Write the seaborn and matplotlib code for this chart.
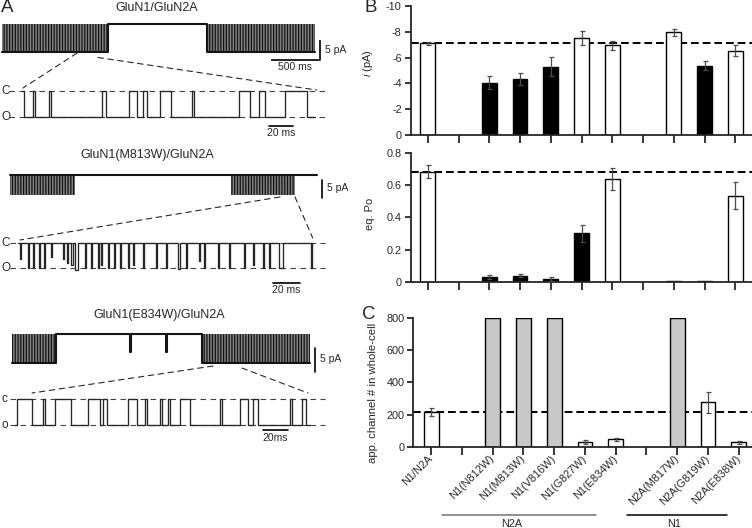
import numpy as np
import pandas as pd
import matplotlib
matplotlib.use("Agg")
import matplotlib.pyplot as plt
import seaborn as sns
from matplotlib.patches import ConnectionPatch

sns.set_style("ticks")
plt.rcParams["font.family"] = ["Liberation Sans", "DejaVu Sans"]
plt.rcParams["axes.unicode_minus"] = False
plt.rcParams["mathtext.fontset"] = "custom"
plt.rcParams["mathtext.it"] = "Liberation Sans:italic"
plt.rcParams["mathtext.rm"] = "Liberation Sans"
plt.rcParams["hatch.linewidth"] = 0.9

# ---------------- data: bar charts ----------------
categories = ["N1/N2A", " ", "N1(N812W)", "N1(M813W)", "N1(V816W)", "N1(G827W)",
              "N1(E834W)", "  ", "N2A(M817W)", "N2A(G819W)", "N2A(E838W)"]
constructs = ["N1/N2A", "N1(N812W)", "N1(M813W)", "N1(V816W)", "N1(G827W)",
              "N1(E834W)", "N2A(M817W)", "N2A(G819W)", "N2A(E838W)"]
i_mean = [-7.1, -4.05, -4.35, -5.3, -7.55, -6.95, -7.95, -5.35, -6.55]
i_err = [0.1, 0.5, 0.45, 0.75, 0.55, 0.35, 0.25, 0.35, 0.45]
i_colors = ["white", "black", "black", "black", "white", "white", "white", "black", "white"]
po_mean = [0.685, 0.027, 0.037, 0.016, 0.30, 0.64, 0.002, 0.004, 0.535]
po_err = [0.04, 0.012, 0.008, 0.01, 0.05, 0.07, 0.0, 0.0, 0.085]
po_colors = ["white", "black", "black", "black", "black", "white", "black", "black", "white"]
n_mean = [215, 800, 800, 800, 28, 46, 800, 276, 27]
n_err = [25, 0, 0, 0, 12, 10, 0, 64, 8]
n_colors = ["white", "#c8c8c8", "#c8c8c8", "#c8c8c8", "white", "white", "#c8c8c8", "white", "white"]
i_ref, po_ref, n_ref = -7.1, 0.685, 215

# ---------------- data: single-channel traces (ms, pA) ----------------
t1c_bursts = [(0, 1075), (2080, 3175)]
t1c_open = -7.0
t2c_bursts = [(0, 659), (2240, 2890)]
t2c_end = 3113
t2c_depth = -5.5
t3c_bursts = [(0, 446), (1927, 3022)]
t3c_open = -6.1
t3c_brief = [(1197, 1205), (1562, 1570)]
t3c_brief_amp = -3.75
t1e_closures = [(0, 1.9), (8.9, 11.1), (22.2, 24.2), (66.7, 70.3), (88.9, 95.8), (100.8, 104.2),
                (115.3, 124.2), (141.7, 143.6), (180.6, 190.3), (197.2, 202.8), (219.4, 237.0)]
t1e_end = 244.4
t2e_openings = [(1.5, 2.5), (7.2, 8.0), (11.0, 11.8), (15.5, 16.3), (19.8, 20.6), (24.8, 25.6),
                (33.5, 34.5), (36.5, 37.5), (39.5, 41.0), (42.5, 45.0), (50.5, 51.3), (54.8, 55.6),
                (59.8, 60.6), (62.3, 63.1), (67.3, 68.1), (72.3, 73.1), (76.5, 77.3), (82.3, 83.1),
                (86.0, 86.8), (93.5, 94.3), (103.5, 104.3), (111.0, 111.8), (119.8, 121.5),
                (126.0, 126.8), (136.0, 136.8), (139.8, 140.6), (149.8, 150.6), (158.5, 159.3),
                (169.8, 170.6), (176.0, 176.8), (183.5, 184.3), (188.5, 189.3), (196.0, 199.0),
                (219.8, 220.6)]
t2e_amps = [-4.5, -7, -7, -7, -7, -4, -4.5, -5.5, -6, -7.5, -7, -7, -7, -6, -7, -7, -7, -7,
            -6, -7, -7, -7, -7.3, -7, -5, -7, -7, -7, -7, -6, -7, -7, -7, -7]
t2e_end = 221.5
t3e_closures = [(1.3, 13.3), (22.7, 24.0), (32.0, 44.5), (58.7, 68.0), (70.7, 73.9), (90.7, 97.3),
                (104.0, 105.3), (116.0, 117.3), (122.7, 124.0), (132.0, 140.0), (164.0, 165.3),
                (180.0, 186.7), (190.7, 194.7), (220.0, 221.3), (229.3, 232.8)]
t3e_end = 236.0
open_level = -7.0

W, H = 752, 528
fig = plt.figure(figsize=(W / 100, H / 100), dpi=100)


def px_axes(x0, y0, x1, y1):
    return fig.add_axes([x0 / W, 1 - y1 / H, (x1 - x0) / W, (y1 - y0) / H])


def ftext(x, y, s, **kw):
    fig.text(x / W, 1 - y / H, s, **kw)


def trace_axes(box, origin, scale):
    x0, y0, x1, y1 = box
    ox, oy = origin
    sx, sy = scale
    ax = px_axes(*box)
    ax.set_xlim((x0 - ox) * sx, (x1 - ox) * sx)
    ax.set_ylim(-(y1 - oy) * sy, -(y0 - oy) * sy)
    ax.axis("off")
    return ax


def segments_df(segs):
    xs, ys = [], []
    for a, b, lv in segs:
        xs += [a, b]
        ys += [lv, lv]
    return pd.DataFrame({"t": xs, "pA": ys})


def events_segments(events, levels, base, t_end):
    segs, t = [], 0.0
    for (a, b), lv in zip(events, levels):
        if a > t:
            segs.append((t, a, base))
        segs.append((a, b, lv))
        t = b
    segs.append((t, t_end, base))
    return segs


def draw_trace(ax, df, lw=0.95, color="0.15"):
    sns.lineplot(data=df, x="t", y="pA", ax=ax, estimator=None, sort=False,
                 color=color, linewidth=lw)
    ax.set_xlabel("")
    ax.set_ylabel("")


def fill_burst(ax, a, b, lo, hi):
    ax.fill_between([a, b], lo, hi, facecolor="0.5", edgecolor="0.08",
                    hatch="||||||", linewidth=0, zorder=1)


dash = (0, (5, 4))

# ----- trace 1 -----
ax1c = trace_axes((0, 18, 360, 75), (2, 24.3), (10.14, 0.25))
for a, b in t1c_bursts:
    fill_burst(ax1c, a, b, t1c_open, 0)
segs = [(t1c_bursts[0][0], t1c_bursts[0][1], t1c_open),
        (t1c_bursts[0][1], t1c_bursts[1][0], 0.0),
        (t1c_bursts[1][0], t1c_bursts[1][1], t1c_open)]
draw_trace(ax1c, segments_df(segs), lw=1.5, color="0.08")
ax1c.plot([3225, 3225, 2725], [-3.9, -8.9, -8.9], color="k", lw=1.2, solid_capstyle="butt")
ax1c.text(3276, -6.4, "5 pA", ha="left", va="center", fontsize=7.5)
ax1c.text(2975, -10.7, "500 ms", ha="center", va="center", fontsize=7.5)

ax1e = trace_axes((0, 80, 360, 140), (22, 90.7), (0.833, 7 / 26.6))
for lv in (0, open_level):
    ax1e.plot([-10.8, 252.4], [lv, lv], color="0.25", lw=0.8, ls=dash)
draw_trace(ax1e, segments_df(events_segments(t1e_closures, [0] * len(t1e_closures),
                                             open_level, t1e_end)))
ax1e.plot([205.8, 225.8], [-9.3, -9.3], color="k", lw=1.2)
ax1e.text(215.8, -11.2, "20 ms", ha="center", va="center", fontsize=7.5)

# ----- trace 2 -----
ax2c = trace_axes((0, 165, 360, 205), (10, 175), (10.14, 1 / 3.6))
for a, b in t2c_bursts:
    fill_burst(ax2c, a, b, t2c_depth, 0)
draw_trace(ax2c, segments_df([(0, t2c_end, 0.0)]), lw=1.5, color="0.08")
ax2c.plot([3164, 3164], [-1.39, -6.39], color="k", lw=1.2)
ax2c.text(3214, -3.7, "5 pA", ha="left", va="center", fontsize=7.5)

ax2e = trace_axes((0, 232, 360, 295), (18, 242.7), (0.75, 7 / 25.6))
for lv in (0, open_level):
    ax2e.plot([-6, 230], [lv, lv], color="0.25", lw=0.8, ls=dash)
draw_trace(ax2e, segments_df(events_segments(t2e_openings, t2e_amps, 0.0, t2e_end)))
ax2e.plot([191.25, 211.25], [-10.9, -10.9], color="k", lw=1.2)
ax2e.text(201.25, -12.8, "20 ms", ha="center", va="center", fontsize=7.5)

# ----- trace 3 -----
ax3c = trace_axes((0, 325, 360, 380), (12, 334), (10.14, 1 / 4.8))
for a, b in t3c_bursts:
    fill_burst(ax3c, a, b, t3c_open, 0)
segs = [(t3c_bursts[0][0], t3c_bursts[0][1], t3c_open)]
segs += events_segments([(a - t3c_bursts[0][1], b - t3c_bursts[0][1]) for a, b in t3c_brief],
                        [t3c_brief_amp] * len(t3c_brief), 0.0,
                        t3c_bursts[1][0] - t3c_bursts[0][1])
segs = [segs[0]] + [(a + t3c_bursts[0][1], b + t3c_bursts[0][1], lv) for a, b, lv in segs[1:]]
segs.append((t3c_bursts[1][0], t3c_bursts[1][1], t3c_open))
draw_trace(ax3c, segments_df(segs), lw=1.5, color="0.08")
ax3c.plot([3072, 3072], [-2.9, -7.9], color="k", lw=1.2)
ax3c.text(3123, -5.2, "5 pA", ha="left", va="center", fontsize=7.5)

ax3e = trace_axes((0, 390, 360, 445), (15, 399), (0.8, 7 / 25.7))
for lv in (0, open_level):
    ax3e.plot([-4, 248], [lv, lv], color="0.25", lw=0.8, ls=dash)
draw_trace(ax3e, segments_df(events_segments(t3e_closures, [0] * len(t3e_closures),
                                             open_level, t3e_end)))
ax3e.plot([198.4, 218.4], [-8.4, -8.4], color="k", lw=1.2)
ax3e.text(208.4, -10.6, "20ms", ha="center", va="center", fontsize=7.5)

for axa, pa, axb, pb in [(ax1c, (760, -7.2), ax1e, (0.8, 0.7)),
                         (ax1c, (973, -8.3), ax1e, (245.5, 0.18)),
                         (ax2c, (2738, -6.1), ax2e, (1.5, 0.74)),
                         (ax2c, (2890, -6.1), ax2e, (221, 1.3)),
                         (ax3c, (2038, -6.67), ax3e, (13.6, 1.63)),
                         (ax3c, (2332, -7.1), ax3e, (234.4, 1.63))]:
    con = ConnectionPatch(xyA=pa, coordsA=axa.transData, xyB=pb, coordsB=axb.transData,
                          color="0.15", lw=0.8, ls=dash)
    fig.add_artist(con)

ftext(157, 8, "GluN1/GluN2A", ha="center", va="center", fontsize=9)
ftext(147, 155, "GluN1(M813W)/GluN2A", ha="center", va="center", fontsize=9)
ftext(159, 315, "GluN1(E834W)/GluN2A", ha="center", va="center", fontsize=9)
for y, s in [(90.7, "C"), (117.3, "O"), (242.7, "C"), (268.3, "O"), (399, "c"), (424.7, "o")]:
    ftext(1, y, s, ha="left", va="center", fontsize=8.5)
ftext(1, -1, "A", ha="left", va="top", fontsize=13.5)
ftext(364, -1, "B", ha="left", va="top", fontsize=13.5)
ftext(362, 306, "C", ha="left", va="top", fontsize=13.5)

# ---------------- bar charts ----------------


def bar_panel(ax, means, errs, colors, ref, xlim, ylim):
    df = pd.DataFrame({"construct": constructs, "value": means})
    pal = dict(zip(constructs, colors))
    ax.axhline(ref, color="k", lw=1.4, ls=(0, (4, 2)), zorder=0.5)
    sns.barplot(data=df, x="construct", y="value", hue="construct", order=categories,
                hue_order=constructs, palette=pal, saturation=1, width=0.48,
                edgecolor="black", linewidth=1.0, errorbar=None, legend=False, ax=ax)
    pos = [categories.index(c) for c in constructs]
    sel = [k for k in range(len(constructs)) if errs[k] > 0]
    ax.errorbar([pos[k] for k in sel], [means[k] for k in sel], yerr=[errs[k] for k in sel],
                fmt="none", ecolor="0.3", elinewidth=0.9, capsize=1.8, capthick=0.9, zorder=3)
    ax.set_xlim(*xlim)
    ax.set_ylim(*ylim)
    ax.set_xlabel("")
    ax.set_ylabel("")
    sns.despine(ax=ax)
    for sp in ("left", "bottom"):
        ax.spines[sp].set_linewidth(1.3)
    ax.set_xticks(range(len(categories)))
    ax.tick_params(axis="x", length=5.5, width=1.3, direction="out")
    ax.tick_params(axis="y", length=4.5, width=1.3, direction="out", labelsize=7.8, pad=2)


axB1 = px_axes(410.7, 6, 752, 135)
bar_panel(axB1, i_mean, i_err, i_colors, i_ref, (-0.556, 10.54), (0, -10))
axB1.set_yticks([0, -2, -4, -6, -8, -10])
axB1.set_yticklabels(["0", "-2", "-4", "-6", "-8", "-10"])
axB1.set_xticklabels([])
axB1.set_ylabel(r"$i$ (pA)", fontsize=8)
axB1.yaxis.set_label_coords(-0.105, 0.56)

axB2 = px_axes(410.7, 153.3, 752, 281.6)
bar_panel(axB2, po_mean, po_err, po_colors, po_ref, (-0.556, 10.54), (0, 0.8))
axB2.set_yticks([0, 0.2, 0.4, 0.6, 0.8])
axB2.set_yticklabels(["0", "0.2", "0.4", "0.6", "0.8"])
axB2.set_xticklabels([])
axB2.set_ylabel("eq. Po", fontsize=8)
axB2.yaxis.set_label_coords(-0.105, 0.53)

axC = px_axes(413.3, 318.3, 752, 446.7)
bar_panel(axC, n_mean, n_err, n_colors, n_ref, (-0.58, 10.43), (0, 800))
axC.set_yticks([0, 200, 400, 600, 800])
axC.set_yticklabels(["0", "200", "400", "600", "800"])
axC.set_xticklabels(categories, rotation=45, ha="right", va="center",
                    rotation_mode="anchor", fontsize=7.8)
axC.tick_params(axis="x", pad=2)
axC.set_ylabel("app. channel # in whole-cell", fontsize=8.2)
axC.yaxis.set_label_coords(-0.104, 0.42)

trans = axC.get_xaxis_transform()
axC.plot([0.35, 5.36], [-0.532, -0.532], transform=trans, clip_on=False, color="0.45", lw=1.1)
axC.plot([6.37, 9.62], [-0.532, -0.532], transform=trans, clip_on=False, color="k", lw=1.1)
axC.text(2.62, -0.60, "N2A", transform=trans, ha="center", va="center", fontsize=7.8)
axC.text(7.9, -0.60, "N1", transform=trans, ha="center", va="center", fontsize=7.8)

fig.savefig("out.png", dpi=100)
